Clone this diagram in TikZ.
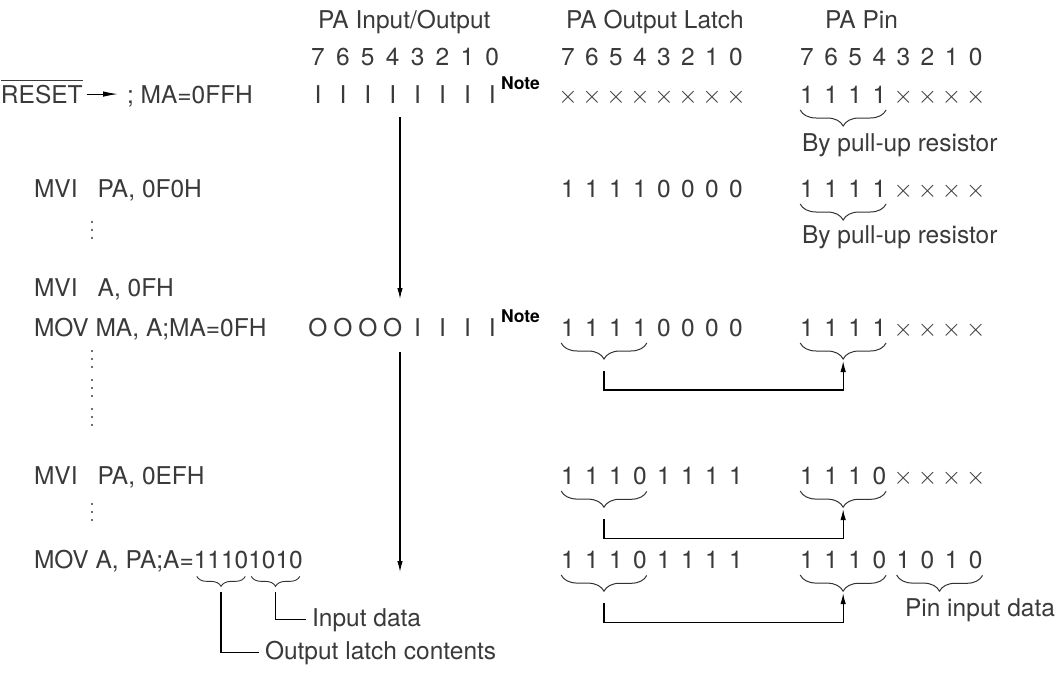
\documentclass[tikz,border=0pt]{standalone}
\usepackage{fontspec}
\setmainfont{TeX Gyre Heros}
\usetikzlibrary{arrows.meta,decorations.pathreplacing,calc}
\definecolor{txt}{HTML}{3A3A3A}
\newcommand\bitrow[5]{\foreach \bt [count=\i from 0] in {#5} {\node[ch] (#1-\i) at ({#2+#3*\i},#4) {\bt};}}
\newcommand\vdt[2]{\fill[txt] (#1,{#2-8}) circle (1.1pt) (#1,#2) circle (1.1pt) (#1,{#2+8}) circle (1.1pt);}
\newcommand\xx{$\times$}
\begin{document}
\begin{tikzpicture}[x=1pt,y=-1pt,
  every node/.style={inner sep=0pt,outer sep=0pt,text=txt,font=\fontsize{24.5}{29}\selectfont},
  lbl/.style={anchor=base west},
  ch/.style={anchor=base},
  note/.style={anchor=base west,font=\bfseries\fontsize{17.5}{20}\selectfont,text=black},
  ln/.style={line width=1.1pt,black},
  arr/.style={ln,-{Latex[length=11pt,width=5.5pt]}},
  bigbrace/.style={decorate,decoration={brace,mirror,amplitude=16pt},line width=1pt,black!80},
  smallbrace/.style={decorate,decoration={brace,mirror,amplitude=10pt},line width=0.9pt,black!80},
]
\useasboundingbox (0,0) rectangle (1059,675);

% headers
\node[lbl] (h1) at (318,28) {PA Input/Output};
\node[lbl] (h2) at (566,28) {PA Output Latch};
\node[lbl] (h3) at (825,28) {PA Pin};
\bitrow{d1}{318}{24.9}{65}{7,6,5,4,3,2,1,0}
\bitrow{d2}{568}{24}{65}{7,6,5,4,3,2,1,0}
\bitrow{d3}{807}{24.1}{65}{7,6,5,4,3,2,1,0}

% row RESET
\node[lbl] (reset) at (1,103) {RESET};
\draw[line width=1pt,txt] ([yshift=4pt]reset.north west) -- ([yshift=4pt]reset.north east);
\node[lbl] (ma0) at (127,103) {; MA=0FFH};
\draw[ln,-{Latex[length=15pt,width=5.5pt]}] ([xshift=4pt]reset.east) -- ([xshift=-9pt]reset.east -| ma0.west);
\bitrow{r3a}{318}{24.9}{103}{I,I,I,I,I,I,I,I}
\node[note] (n1) at (501,89) {Note};
\bitrow{r3b}{568}{24}{103}{\xx,\xx,\xx,\xx,\xx,\xx,\xx,\xx}
\bitrow{r3c}{807}{24.1}{103}{1,1,1,1,\xx,\xx,\xx,\xx}
\draw[bigbrace] ([yshift=-7pt]r3c-0.south west) -- ([yshift=-7pt]r3c-3.south east);
\node[lbl] (by1) at (802,151) {By pull-up resistor};

% row MVI PA, 0F0H
\node[lbl] (mvi1) at (34,197) {MVI\hspace{20pt}PA, 0F0H};
\vdt{92}{230}
\bitrow{r4b}{568}{24}{197}{1,1,1,1,0,0,0,0}
\bitrow{r4c}{807}{24.1}{197}{1,1,1,1,\xx,\xx,\xx,\xx}
\draw[bigbrace] ([yshift=-7pt]r4c-0.south west) -- ([yshift=-7pt]r4c-3.south east);
\node[lbl] (by2) at (802,243) {By pull-up resistor};

% rows MVI A / MOV MA
\node[lbl] (mvi2) at (34,296) {MVI\hspace{20pt}A, 0FH};
\node[lbl] (mov1) at (34,336) {MOV MA, A;MA=0FH};
\bitrow{r6a}{318}{24.9}{336}{O,O,O,O,I,I,I,I}
\node[note] (n2) at (501,322) {Note};
\bitrow{r6b}{568}{24}{336}{1,1,1,1,0,0,0,0}
\bitrow{r6c}{807}{24.1}{336}{1,1,1,1,\xx,\xx,\xx,\xx}
\draw[bigbrace] ([yshift=-7pt]r6b-0.south west) -- ([yshift=-7pt]r6b-3.south east);
\draw[bigbrace] ([yshift=-7pt]r6c-0.south west) -- ([yshift=-7pt]r6c-3.south east);
\coordinate (t6b) at ($(r6b-0.south west)!0.5!(r6b-3.south east)$);
\coordinate (t6c) at ($(r6c-0.south west)!0.5!(r6c-3.south east)$);
\draw[arr] ([yshift=-35pt]t6b) -- ([yshift=-54pt]t6b) -| ([yshift=-25pt]t6c);
\vdt{92}{359}
\vdt{92}{388}
\vdt{92}{417}

% row MVI PA, 0EFH
\node[lbl] (mvi3) at (34,484) {MVI\hspace{20pt}PA, 0EFH};
\vdt{92}{512}
\bitrow{r7b}{568}{24}{484}{1,1,1,0,1,1,1,1}
\bitrow{r7c}{807}{24.1}{484}{1,1,1,0,\xx,\xx,\xx,\xx}
\draw[bigbrace] ([yshift=-7pt]r7b-0.south west) -- ([yshift=-7pt]r7b-3.south east);
\draw[bigbrace] ([yshift=-7pt]r7c-0.south west) -- ([yshift=-7pt]r7c-3.south east);
\coordinate (t7b) at ($(r7b-0.south west)!0.5!(r7b-3.south east)$);
\coordinate (t7c) at ($(r7c-0.south west)!0.5!(r7c-3.south east)$);
\draw[arr] ([yshift=-35pt]t7b) -- ([yshift=-54pt]t7b) -| ([yshift=-25pt]t7c);

% row MOV A, PA
\node[lbl] (mov2) at (34,568) {MOV A, PA;A=};
\node[lbl] (m1) at (mov2.base east) {1110};
\node[lbl] (m2) at (m1.base east) {1010};
\draw[smallbrace] ([xshift=3pt,yshift=-8pt]m1.south west) -- ([xshift=-3pt,yshift=-8pt]m1.south east);
\draw[smallbrace] ([xshift=3pt,yshift=-8pt]m2.south west) -- ([xshift=-3pt,yshift=-8pt]m2.south east);
\node[lbl] (inp) at (312,626) {Input data};
\node[lbl] (olc) at (265,659) {Output latch contents};
\draw[ln] ([yshift=-24pt]m2.south) |- ([xshift=-6pt]inp.west);
\draw[ln] ([yshift=-24pt]m1.south) |- ([xshift=-6pt]olc.west);
\bitrow{r8b}{568}{24}{568}{1,1,1,0,1,1,1,1}
\bitrow{r8c}{807}{24.1}{568}{1,1,1,0,1,0,1,0}
\draw[bigbrace] ([yshift=-7pt]r8b-0.south west) -- ([yshift=-7pt]r8b-3.south east);
\draw[bigbrace] ([yshift=-7pt]r8c-0.south west) -- ([yshift=-7pt]r8c-3.south east);
\draw[bigbrace] ([yshift=-7pt]r8c-4.south west) -- ([yshift=-7pt]r8c-7.south east);
\coordinate (t8b) at ($(r8b-0.south west)!0.5!(r8b-3.south east)$);
\coordinate (t8c) at ($(r8c-0.south west)!0.5!(r8c-3.south east)$);
\draw[arr] ([yshift=-35pt]t8b) -- ([yshift=-54pt]t8b) -| ([yshift=-25pt]t8c);
\node[lbl] (pid) at (905,616) {Pin input data};

% vertical flow arrows
\coordinate (a1s) at (400,117);
\coordinate (a1e) at (400,299);
\coordinate (a2s) at (400,352);
\coordinate (a2e) at (400,572);
\draw[arr] (a1s) -- (a1e);
\draw[arr] (a2s) -- (a2e);
\end{tikzpicture}
\end{document}
